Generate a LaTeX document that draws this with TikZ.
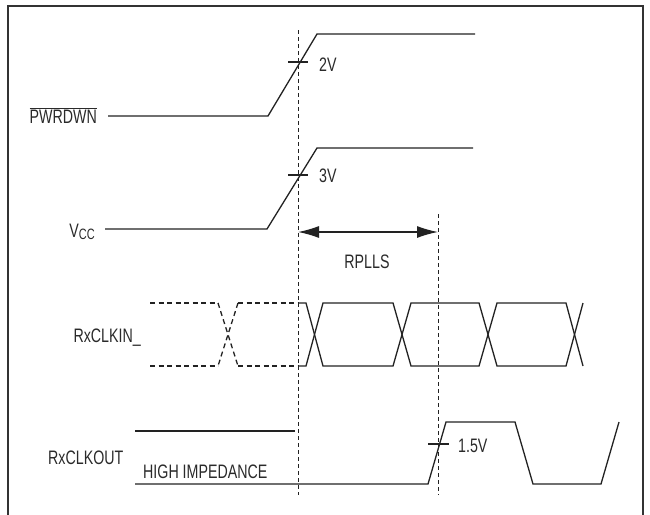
\documentclass[tikz,border=0pt]{standalone}
\usepackage{fontspec}
\setmainfont{Liberation Sans}[FakeStretch=0.73]
\usetikzlibrary{arrows.meta}
\definecolor{ink}{HTML}{222222}
\definecolor{txt}{HTML}{2A2A2A}
\definecolor{framec}{HTML}{333333}
\begin{document}
\begin{tikzpicture}[x=1pt,y=-1pt,
  sig/.style={line width=1.3pt,ink,line join=miter},
  sigdash/.style={line width=1.3pt,ink,dash pattern=on 5pt off 3.5pt},
  guide/.style={line width=1pt,ink,dash pattern=on 4pt off 3pt},
  lbl/.style={inner sep=0pt,text=txt,font=\fontsize{19.5}{19.5}\selectfont},
  tick/.style={line width=1.3pt,ink}]
\useasboundingbox (0,0) rectangle (650,514);
% frame
\draw[line width=2pt,framec] (8,516) -- (8,6) -- (643,6) -- (643,516);

% labels
\node[lbl,anchor=base east] (pwrdwn) at (97,123) {\(\overline{\mbox{PWRDWN}}\)};
\node[lbl,anchor=base east] (vcc) at (95,237) {V\raisebox{-2pt}{\fontsize{15}{15}\selectfont CC}};
\node[lbl,anchor=base east] (rxclkin) at (141,342) {RxCLKIN\_};
\node[lbl,anchor=base west] (rxclkout) at (48,464) {RxCLKOUT};
\node[lbl,anchor=base west] (hiz) at (143,478) {HIGH IMPEDANCE};
\node[lbl,anchor=base west] (v2) at (319,71) {2V};
\node[lbl,anchor=base west] (v3) at (319,182) {3V};
\node[lbl,anchor=base west] (v15) at (458,452) {1.5V};
\node[lbl,anchor=base] (rplls) at (367,268) {RPLLS};

% guides
\coordinate (g1top) at (298,30);
\coordinate (g1bot) at (298,495);
\coordinate (g2top) at (438,214);
\coordinate (g2bot) at (438,495);
\draw[guide] (g1top) -- (g1bot);
\draw[guide] (g2top) -- (g2bot);
\coordinate (a1) at (298,232);
\coordinate (a2) at (438,232);
\draw[line width=1.3pt,ink,{Latex[length=21pt,width=12pt]}-{Latex[length=21pt,width=12pt]}] (a1) -- (a2);

% PWRDWN
\draw[sig] (108,116) -- (268,116) -- (317,34) -- (475,34);
\draw[tick] (288,62) -- (308,62);
% VCC
\draw[sig] (105,229) -- (267,229) -- (317,148) -- (473,148);
\draw[tick] (288,175) -- (308,175);

% RxCLKIN_ dashed part
\draw[sigdash] (150,303) -- (218,303);
\draw[sigdash] (150,366) -- (218,366);
\draw[sigdash] (218,303) -- (238,366);
\draw[sigdash] (238,303) -- (218,366);
\draw[sigdash] (238,303) -- (298,303);
\draw[sigdash] (238,366) -- (298,366);
% RxCLKIN_ solid part
\draw[sig] (298,303) -- (306,303) -- (323,366) -- (393,366) -- (411,303) -- (479,303) -- (497,366) -- (566,366) -- (583,303);
\draw[sig] (298,366) -- (306,366) -- (323,303) -- (393,303) -- (411,366) -- (479,366) -- (497,303) -- (566,303) -- (583,366);

% RxCLKOUT
\draw[sig] (135,431) -- (295,431);
\draw[sig] (135,484) -- (428,484) -- (446,422) -- (515,422) -- (533,484) -- (601,484) -- (619,422);
\draw[tick] (428,444) -- (449,444);
\end{tikzpicture}
\end{document}
